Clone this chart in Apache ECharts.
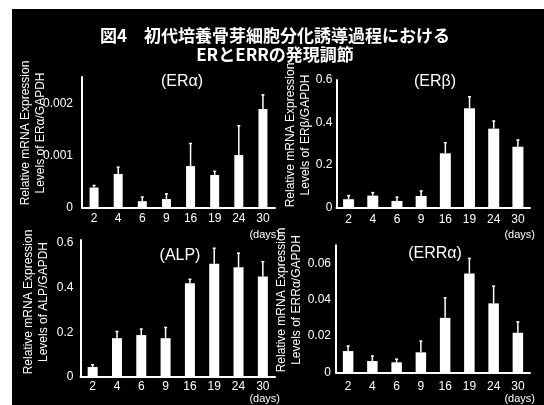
<!DOCTYPE html>
<html>
<head>
<meta charset="utf-8">
<style>
  html, body { margin: 0; padding: 0; background: #ffffff; }
  #chart { width: 544px; height: 405px; }
</style>
<script src="https://cdn.jsdelivr.net/npm/echarts@6/dist/echarts.min.js"></script>
</head>
<body>
<div id="chart"></div>
<script>
// Culture days (x categories shared by all four panels)
var days = ['2', '4', '6', '9', '16', '19', '24', '30'];

// ERα / GAPDH
var eraMean = [0.00039, 0.00065, 0.00013, 0.00017, 0.00080, 0.00063, 0.00101, 0.00189];
var eraErr  = [0.00004, 0.00013, 0.00008, 0.00010, 0.00043, 0.00007, 0.00056, 0.00027];

// ERβ / GAPDH
var erbMean = [0.039, 0.056, 0.031, 0.054, 0.255, 0.467, 0.371, 0.286];
var erbErr  = [0.017, 0.014, 0.018, 0.024, 0.050, 0.054, 0.036, 0.032];

// ALP / GAPDH
var alpMean = [0.045, 0.174, 0.188, 0.174, 0.420, 0.507, 0.492, 0.450];
var alpErr  = [0.010, 0.030, 0.027, 0.048, 0.018, 0.070, 0.063, 0.067];

// ERRα / GAPDH
var errMean = [0.0117, 0.0062, 0.0055, 0.0110, 0.0300, 0.0545, 0.0380, 0.0218];
var errErr  = [0.0028, 0.0028, 0.0017, 0.0062, 0.0110, 0.0083, 0.0095, 0.0060];

var FONT = 'Liberation Sans';
var WHITE = '#ffffff';

var panels = [
  { title: '(ERα)',  mean: eraMean, err: eraErr, yName: 'Levels of ERα/GAPDH',
    grid: { left: 82, top: 77, width: 193, height: 131 },
    yMax: 0.0025, yInt: 0.001, showMax: false, labelMargin: 9, barWidth: 9,
    xLabelMargin: 5, daysPad: 21, titleX: 177, titleY: 69, nameX: 33, nameY: 133 },
  { title: '(ERβ)',  mean: erbMean, err: erbErr, yName: 'Levels of ERβ/GAPDH',
    grid: { left: 336.5, top: 80, width: 193.5, height: 127.5 },
    yMax: 0.6, yInt: 0.2, showMax: true, labelMargin: 4, barWidth: 11,
    xLabelMargin: 6, daysPad: 22, titleX: 430, titleY: 69, nameX: 298, nameY: 135 },
  { title: '(ALP)',  mean: alpMean, err: alpErr, yName: 'Levels of ALP/GAPDH',
    grid: { left: 80.5, top: 240, width: 194.5, height: 137 },
    yMax: 0.614, yInt: 0.2, showMax: false, labelMargin: 7, barWidth: 10,
    xLabelMargin: 4, daysPad: 16, titleX: 175, titleY: 243, nameX: 36, nameY: 302 },
  { title: '(ERRα)', mean: errMean, err: errErr, yName: 'Levels of ERRα/GAPDH',
    grid: { left: 336, top: 245.3, width: 194, height: 127 },
    yMax: 0.07, yInt: 0.02, showMax: false, labelMargin: 5, barWidth: 10.5,
    xLabelMargin: 8, daysPad: 21, titleX: 430, titleY: 241, nameX: 289, nameY: 300 }
];

var grids = [], xAxes = [], yAxes = [], series = [];
var titles = [{
  text: '図4　初代培養骨芽細胞分化誘導過程における\nERとERRの発現調節',
  left: 270, top: 21, textAlign: 'center',
  textStyle: { color: WHITE, fontFamily: 'Noto Sans CJK JP', fontWeight: 'bold',
               fontSize: 17, lineHeight: 19 }
}];
var graphics = [{
  type: 'rect', left: 12, top: 9, z: -10,
  shape: { width: 532, height: 396 }, style: { fill: '#000000' }
}];

panels.forEach(function (p, i) {
  grids.push(p.grid);
  xAxes.push({
    type: 'category', gridIndex: i, data: days,
    axisLine: { lineStyle: { color: WHITE, width: 2 } },
    axisTick: { show: false },
    axisLabel: { color: WHITE, fontFamily: FONT, fontSize: 12, margin: p.xLabelMargin },
    name: '(days)', nameLocation: 'end', nameGap: 5, nameMoveOverlap: false,
    nameTextStyle: { color: WHITE, fontFamily: FONT, fontSize: 11,
                     align: 'right', verticalAlign: 'top', padding: [p.daysPad, 0, 0, 0] }
  });
  yAxes.push({
    type: 'value', gridIndex: i, min: 0, max: p.yMax, interval: p.yInt,
    axisLine: { show: true, lineStyle: { color: WHITE, width: 2 } },
    axisTick: { show: false },
    splitLine: { show: false },
    axisLabel: { color: WHITE, fontFamily: FONT, fontSize: 12, margin: p.labelMargin,
                 showMaxLabel: p.showMax }
  });
  series.push({
    type: 'bar', xAxisIndex: i, yAxisIndex: i, data: p.mean,
    barWidth: p.barWidth, itemStyle: { color: WHITE }, silent: true
  });
  // upper error bars: stem from the bar top to mean + SD with a short cap
  series.push({
    type: 'custom', xAxisIndex: i, yAxisIndex: i, silent: true, z: 3,
    data: p.mean.map(function (m, k) { return [k, m, p.err[k]]; }),
    encode: { x: 0, y: 1 },
    renderItem: function (params, api) {
      var k = api.value(0), m = api.value(1), e = api.value(2);
      var base = api.coord([k, m]);
      var tip = api.coord([k, m + e]);
      return {
        type: 'group',
        children: [
          { type: 'line', shape: { x1: base[0], y1: base[1], x2: tip[0], y2: tip[1] },
            style: { stroke: WHITE, lineWidth: 1.5 } },
          { type: 'line', shape: { x1: tip[0] - 1.5, y1: tip[1], x2: tip[0] + 1.5, y2: tip[1] },
            style: { stroke: WHITE, lineWidth: 1.5 } }
        ]
      };
    }
  });
  titles.push({
    text: p.title, left: p.titleX, top: p.titleY, textAlign: 'center',
    textStyle: { color: WHITE, fontFamily: FONT, fontWeight: 'normal', fontSize: 16 }
  });
  graphics.push({
    type: 'text', x: p.nameX, y: p.nameY, rotation: Math.PI / 2, z: 5,
    style: { text: 'Relative mRNA Expression\n' + p.yName, fill: WHITE,
             font: '12px "' + FONT + '"', align: 'center', verticalAlign: 'middle',
             lineHeight: 15 }
  });
});

var chart = echarts.init(document.getElementById('chart'), null, { renderer: 'canvas' });
chart.setOption({
  backgroundColor: '#ffffff',
  animation: false,
  title: titles,
  grid: grids,
  xAxis: xAxes,
  yAxis: yAxes,
  series: series,
  graphic: graphics
});
</script>
</body>
</html>
